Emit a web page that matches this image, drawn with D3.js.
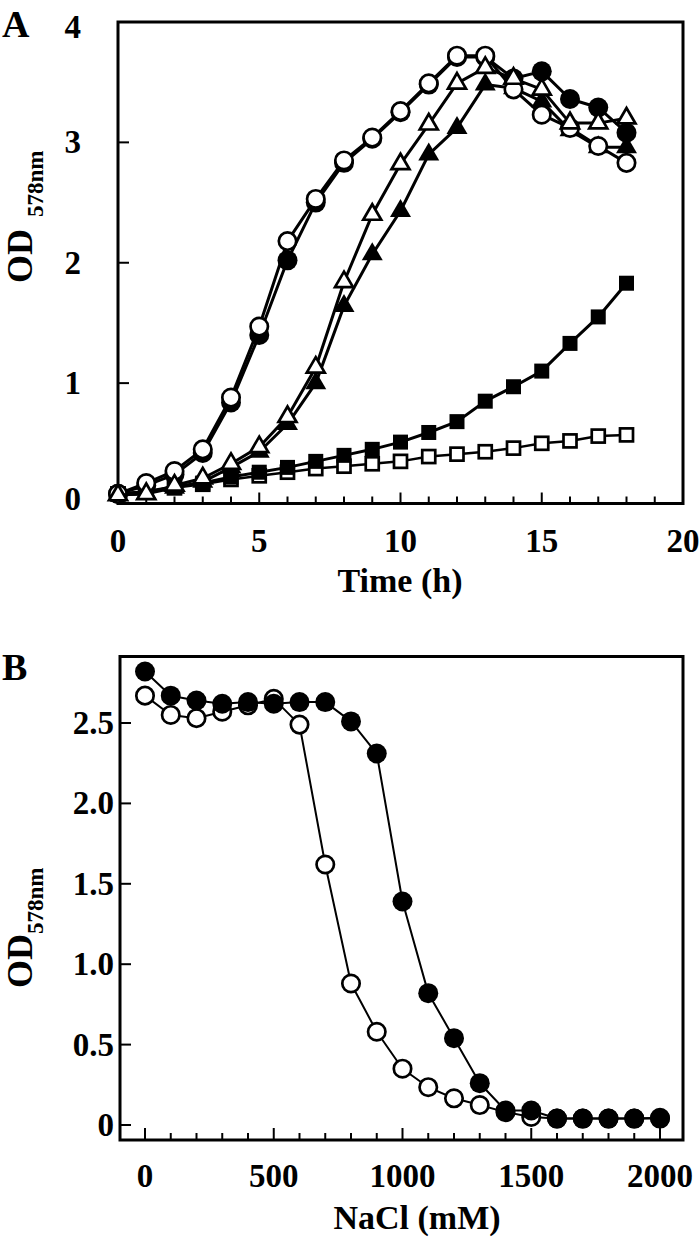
<!DOCTYPE html>
<html><head><meta charset="utf-8">
<script src="https://cdn.jsdelivr.net/npm/d3@7"></script>
<style>
html,body{margin:0;padding:0;background:#fff;}
text{font-family:"Liberation Serif","Times New Roman",serif;font-weight:bold;fill:#000;}
</style></head>
<body>
<svg id="fig" width="700" height="1239"></svg>
<script>
// ---------------- DATA ----------------
// Panel A: growth curves (OD578nm vs time, h)
const hoursA = [0,1,2,3,4,5,6,7,8,9,10,11,12,13,14,15,16,17,18];
const openCircleA  = [0.08,0.17,0.27,0.45,0.88,1.47,2.18,2.53,2.85,3.04,3.26,3.49,3.72,3.72,3.44,3.23,3.12,2.97,2.83];
const filledCircleA= [0.08,0.15,0.24,0.42,0.84,1.40,2.02,2.50,2.83,3.03,3.25,3.48,3.71,3.71,3.53,3.59,3.36,3.29,3.08];
const openTriA     = [0.07,0.08,0.15,0.21,0.33,0.47,0.72,1.13,1.84,2.40,2.82,3.15,3.49,3.62,3.53,3.44,3.16,3.16,3.20];
const filledTriA   = [0.07,0.08,0.13,0.18,0.30,0.43,0.66,1.00,1.64,2.07,2.43,2.90,3.12,3.48,3.45,3.34,3.10,2.96,2.96];
const filledSqA    = [0.08,0.10,0.14,0.17,0.22,0.26,0.30,0.35,0.40,0.45,0.51,0.59,0.68,0.85,0.97,1.10,1.33,1.55,1.83];
const openSqA      = [0.08,0.10,0.13,0.16,0.20,0.23,0.26,0.29,0.31,0.33,0.35,0.39,0.41,0.43,0.46,0.50,0.52,0.56,0.57];
const xTicksA = [0,5,10,15,20];
const yTicksA = [0,1,2,3,4];

// Panel B: OD578nm vs NaCl (mM)
const naclB = [0,100,200,300,400,500,600,700,800,900,1000,1100,1200,1300,1400,1500,1600,1700,1800,1900,2000];
const filledB = [2.82,2.67,2.64,2.62,2.63,2.62,2.63,2.63,2.51,2.31,1.39,0.82,0.54,0.26,0.09,0.09,0.04,0.04,0.04,0.04,0.045];
const openB   = [2.67,2.55,2.53,2.57,2.61,2.65,2.49,1.62,0.88,0.58,0.35,0.235,0.166,0.124,0.08,0.05,0.04,0.04,0.04,0.04,0.04];
const xTicksB = [0,500,1000,1500,2000];
const yTicksB = [0,0.5,1.0,1.5,2.0,2.5];

// ---------------- DRAW ----------------
const svg = d3.select("#fig");
const FONT = 33;

function frame(g, L, T, R, B) {
  g.append("rect").attr("x", L).attr("y", T).attr("width", R - L).attr("height", B - T)
    .attr("fill", "none").attr("stroke", "#000").attr("stroke-width", 3);
}
function triPath(w, h) { // centroid centred
  return `M0,${-2*h/3}L${w},${h/3}L${-w},${h/3}Z`;
}
function series(g, x, y, xs, ys, kind, filled, lw) {
  const line = d3.line().x((d,i) => x(xs[i])).y(d => y(d));
  g.append("path").attr("d", line(ys)).attr("fill", "none").attr("stroke", "#000")
    .attr("stroke-width", lw).attr("stroke-linejoin", "round");
  const m = g.append("g");
  ys.forEach((v, i) => {
    const cx = x(xs[i]), cy = y(v);
    let el;
    if (kind === "circle") {
      el = m.append("circle").attr("cx", cx).attr("cy", cy).attr("r", filled ? 10 : 8.7);
    } else if (kind === "square") {
      const s = filled ? 15 : 13;
      el = m.append("rect").attr("x", cx - s/2).attr("y", cy - s/2).attr("width", s).attr("height", s);
    } else {
      el = m.append("path").attr("transform", `translate(${cx},${cy})`)
        .attr("d", filled ? triPath(10.5, 18) : triPath(9, 15.5))
        .attr("stroke-linejoin", "miter");
    }
    if (filled) el.attr("fill", "#000").attr("stroke", "none");
    else el.attr("fill", "#fff").attr("stroke", "#000").attr("stroke-width", 2.7);
  });
}

// ----- Panel A -----
{
  const L = 118, T = 22, R = 683, B = 503.5;
  const x = d3.scaleLinear().domain([0, 20]).range([L, R]);
  const y = d3.scaleLinear().domain([0, 4]).range([B, T]);
  const g = svg.append("g");

  d3.range(0, 21).forEach(t => {
    const len = t % 5 === 0 ? 11 : 7;
    g.append("line").attr("x1", x(t)).attr("x2", x(t)).attr("y1", B).attr("y2", B - len)
      .attr("stroke", "#000").attr("stroke-width", 2);
  });
  yTicksA.forEach(v => {
    g.append("line").attr("x1", L).attr("x2", L + 11).attr("y1", y(v)).attr("y2", y(v))
      .attr("stroke", "#000").attr("stroke-width", 2);
  });
  frame(g, L, T, R, B);

  xTicksA.forEach(t => {
    g.append("text").attr("x", x(t)).attr("y", 552).attr("text-anchor", "middle")
      .style("font-size", FONT + "px").text(t);
  });
  yTicksA.forEach(v => {
    const c = Math.min(Math.max(y(v), 27), 499);
    g.append("text").attr("x", 81).attr("y", c + 11).attr("text-anchor", "end")
      .style("font-size", FONT + "px").text(v);
  });

  g.append("text").attr("x", 400).attr("y", 592).attr("text-anchor", "middle")
    .style("font-size", "34px").text("Time (h)");
  const yt = g.append("text").attr("transform", "translate(32,283) rotate(-90)")
    .style("font-size", "36px");
  yt.append("tspan").text("OD");
  yt.append("tspan").attr("dx", 12).attr("dy", 11).style("font-size", "23px").text("578nm");

  g.append("text").attr("x", 2).attr("y", 37).style("font-size", "38px").text("A");

  const pg = g.append("g");
  series(pg, x, y, hoursA, openSqA, "square", false, 2.5);
  series(pg, x, y, hoursA, filledSqA, "square", true, 3);
  series(pg, x, y, hoursA, filledTriA, "tri", true, 3);
  series(pg, x, y, hoursA, filledCircleA, "circle", true, 3);
  series(pg, x, y, hoursA, openCircleA, "circle", false, 3);
  series(pg, x, y, hoursA, openTriA, "tri", false, 3);
}

// ----- Panel B -----
{
  const L = 120, T = 656.5, R = 683, B = 1140;
  const x = d3.scaleLinear().domain([0, 2000]).range([145, 660]);
  const y = d3.scaleLinear().domain([0, 2.5]).range([1125, 723]);
  const g = svg.append("g");

  d3.range(0, 2001, 100).forEach(t => {
    const len = t % 500 === 0 ? 12 : 7;
    g.append("line").attr("x1", x(t)).attr("x2", x(t)).attr("y1", B).attr("y2", B - len)
      .attr("stroke", "#000").attr("stroke-width", 2);
  });
  yTicksB.forEach(v => {
    g.append("line").attr("x1", L).attr("x2", L + 11).attr("y1", y(v)).attr("y2", y(v))
      .attr("stroke", "#000").attr("stroke-width", 2);
  });
  frame(g, L, T, R, B);

  xTicksB.forEach(t => {
    g.append("text").attr("x", x(t)).attr("y", 1187).attr("text-anchor", "middle")
      .style("font-size", FONT + "px").text(t);
  });
  yTicksB.forEach(v => {
    g.append("text").attr("x", 114).attr("y", y(v) + 11).attr("text-anchor", "end")
      .style("font-size", FONT + "px").text(v === 0 ? "0" : d3.format(".1f")(v));
  });

  g.append("text").attr("x", 417).attr("y", 1229).attr("text-anchor", "middle")
    .style("font-size", "34px").text("NaCl (mM)");
  const yt = g.append("text").attr("transform", "translate(32,988) rotate(-90)")
    .style("font-size", "36px");
  yt.append("tspan").text("OD");
  yt.append("tspan").attr("dy", 11).style("font-size", "23px").text("578nm");

  g.append("text").attr("x", 2).attr("y", 680).style("font-size", "38px").text("B");

  const pg = g.append("g");
  series(pg, x, y, naclB, openB, "circle", false, 2);
  series(pg, x, y, naclB, filledB, "circle", true, 2);
}
</script>
</body></html>
